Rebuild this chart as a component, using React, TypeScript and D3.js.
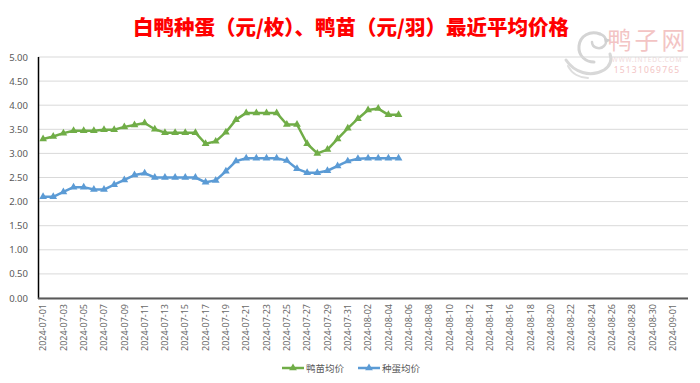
import React from 'react';
import * as d3 from 'd3';

const titleText = '白鸭种蛋（元/枚）、鸭苗（元/羽）最近平均价格';
const categories: string[] = d3
  .utcDay.range(new Date(Date.UTC(2024, 6, 1)), new Date(Date.UTC(2024, 8, 3)))
  .map(d3.utcFormat('%Y-%m-%d'));
const yTicks = [0, 0.5, 1, 1.5, 2, 2.5, 3, 3.5, 4, 4.5, 5];
const duckling = [3.30, 3.35, 3.42, 3.47, 3.47, 3.47, 3.49, 3.49, 3.55, 3.59, 3.63, 3.50, 3.43, 3.43, 3.43, 3.43, 3.20, 3.25, 3.44, 3.70, 3.84, 3.84, 3.84, 3.84, 3.60, 3.60, 3.20, 3.00, 3.08, 3.30, 3.52, 3.72, 3.90, 3.93, 3.80, 3.80];
const eggs = [2.10, 2.10, 2.20, 2.30, 2.30, 2.25, 2.25, 2.35, 2.45, 2.55, 2.59, 2.50, 2.50, 2.50, 2.50, 2.50, 2.40, 2.44, 2.63, 2.84, 2.90, 2.90, 2.90, 2.90, 2.85, 2.68, 2.60, 2.60, 2.64, 2.74, 2.84, 2.89, 2.90, 2.90, 2.90, 2.90];
const seriesNames = ['鸭苗均价', '种蛋均价'];

const W = 700, H = 383;
const GREEN = '#70ad47', BLUE = '#5b9bd5';

export default function App() {
  const x = d3.scaleBand<string>().domain(categories).range([38, 688]).paddingInner(0).paddingOuter(0);
  const y = d3.scaleLinear().domain([0, 5]).range([298, 57]);
  const cx = (i: number) => (x(categories[i]) as number) + x.bandwidth() / 2;
  const line = d3.line<number>().x((_, i) => cx(i)).y((v) => y(v));
  const tri = d3.symbol().type(d3.symbolTriangle).size(26)() as string;
  const series = [
    { name: seriesNames[0], data: duckling, color: GREEN },
    { name: seriesNames[1], data: eggs, color: BLUE },
  ];
  const font = "'Noto Sans','Noto Sans CJK SC',sans-serif";
  return (
    <svg width={W} height={H} style={{ position: 'absolute', left: 0, top: 0, background: '#fff' }} fontFamily={font}>
      <rect x={0} y={0} width={W} height={H} fill="#fff" />
      {/* watermark */}
      <g>
        <path d="M600,34 C590,30 580,36 579,46 C578,56 586,62 594,62" fill="none" stroke="#d4d4d4" strokeWidth={3} strokeLinecap="round" />
        <path d="M600,34 C606,36 608,42 604,46 C600,50 592,48 592,42" fill="none" stroke="#d4d4d4" strokeWidth={2.5} strokeLinecap="round" />
        <path d="M604,38 L612,40 L605,43 Z" fill="#cfcfcf" />
        <path d="M566,60 C574,72 590,78 604,70 C610,66 612,60 610,54" fill="none" stroke="#d8d8d8" strokeWidth={3} strokeLinecap="round" />
        <path d="M568,66 C572,74 580,78 588,78" fill="none" stroke="#dedede" strokeWidth={2} strokeLinecap="round" />
        <text x={648} y={49} textAnchor="middle" fontSize={24} fill="#f3c4c4" letterSpacing={3} fontFamily="'Noto Sans CJK SC',sans-serif">鸭子网</text>
        <text x={647} y={62} textAnchor="middle" fontSize={6.5} fill="#f0dada" letterSpacing={0.8}>WWW.INTEDC.COM</text>
        <text x={647} y={73} textAnchor="middle" fontSize={8.5} fill="#f3c4c4" letterSpacing={1.2}>15131069765</text>
      </g>
      <text x={351} y={35} textAnchor="middle" fontSize={20.5} fontWeight={900} fill="#ff0000" fontFamily="'Noto Sans CJK SC',sans-serif">{titleText}</text>
      {/* gridlines */}
      {yTicks.map((t) => (
        <line key={t} x1={38} x2={688} y1={y(t)} y2={y(t)} stroke="#d9d9d9" strokeWidth={1} />
      ))}
      {yTicks.map((t) => (
        <text key={'l' + t} x={28} y={y(t) + 3.5} textAnchor="end" fontSize={9.5} fill="#595959">{t.toFixed(2)}</text>
      ))}
      <line x1={38.5} x2={38.5} y1={57} y2={299} stroke="#000" strokeWidth={1.5} />
      <line x1={38} x2={688} y1={298.5} y2={298.5} stroke="#595959" strokeWidth={2} />
      {categories.map((c, i) =>
        i % 2 === 0 ? (
          <text key={c} transform={`translate(${cx(i) + 3.2},304) rotate(-90)`} textAnchor="end" fontSize={9} fill="#6a6a6a">{c}</text>
        ) : null
      )}
      {series.map((s) => (
        <g key={s.name}>
          <path d={line(s.data) as string} fill="none" stroke={s.color} strokeWidth={2.5} strokeLinejoin="round" />
          {s.data.map((v, i) => (
            <path key={i} d={tri} transform={`translate(${cx(i)},${y(v)})`} fill={s.color} />
          ))}
        </g>
      ))}
      {/* legend */}
      {series.map((s, k) => {
        const lx = k === 0 ? 282 : 358;
        return (
          <g key={'lg' + s.name}>
            <line x1={lx} x2={lx + 22} y1={368} y2={368} stroke={s.color} strokeWidth={2.5} />
            <path d={tri} transform={`translate(${lx + 11},368)`} fill={s.color} />
            <text x={lx + 24} y={371.5} fontSize={9.5} fill="#595959" fontFamily="'Noto Sans CJK SC',sans-serif">{s.name}</text>
          </g>
        );
      })}
    </svg>
  );
}
